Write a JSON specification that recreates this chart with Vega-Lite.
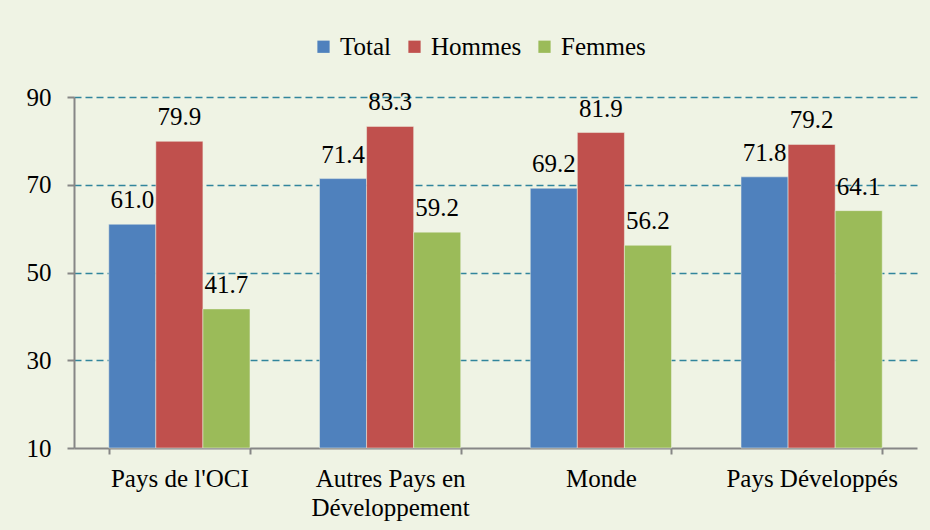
{
  "$schema": "https://vega.github.io/schema/vega-lite/v6.json",
  "autosize": "none",
  "width": 843,
  "height": 351,
  "padding": {"left": 74, "top": 97, "right": 13, "bottom": 82},
  "background": "#EFF3E4",
  "data": {
    "values": [
      {"region": "Pays de l'OCI", "serie": "Total", "val": 61.0},
      {"region": "Pays de l'OCI", "serie": "Hommes", "val": 79.9},
      {"region": "Pays de l'OCI", "serie": "Femmes", "val": 41.7},
      {"region": "Autres Pays en Développement", "serie": "Total", "val": 71.4},
      {"region": "Autres Pays en Développement", "serie": "Hommes", "val": 83.3},
      {"region": "Autres Pays en Développement", "serie": "Femmes", "val": 59.2},
      {"region": "Monde", "serie": "Total", "val": 69.2},
      {"region": "Monde", "serie": "Hommes", "val": 81.9},
      {"region": "Monde", "serie": "Femmes", "val": 56.2},
      {"region": "Pays Développés", "serie": "Total", "val": 71.8},
      {"region": "Pays Développés", "serie": "Hommes", "val": 79.2},
      {"region": "Pays Développés", "serie": "Femmes", "val": 64.1}
    ]
  },
  "config": {
    "view": {"stroke": null},
    "font": "Liberation Serif",
    "text": {"font": "Liberation Serif"}
  },
  "encoding": {
    "x": {
      "field": "region",
      "type": "nominal",
      "sort": ["Pays de l'OCI", "Autres Pays en Développement", "Monde", "Pays Développés"],
      "scale": {"paddingInner": 0.33, "paddingOuter": 0.165},
      "axis": {
        "title": null,
        "labelAngle": 0,
        "labelFont": "Liberation Serif",
        "labelFontSize": 25,
        "labelColor": "#000000",
        "labelPadding": 12,
        "labelOverlap": false,
        "labelBound": false,
        "labelExpr": "datum.value == 'Autres Pays en Développement' ? ['Autres Pays en', 'Développement'] : datum.value",
        "labelLineHeight": 29,
        "tickBand": "extent",
        "tickSize": 6,
        "tickColor": "#868686",
        "tickWidth": 2,
        "domainColor": "#868686",
        "domainWidth": 2,
        "grid": false
      }
    },
    "xOffset": {"field": "serie", "type": "nominal", "sort": ["Total", "Hommes", "Femmes"]},
    "y": {
      "field": "val",
      "type": "quantitative",
      "scale": {"domain": [10, 90], "nice": false, "zero": false},
      "axis": {
        "title": null,
        "values": [10, 30, 50, 70, 90],
        "labelFont": "Liberation Serif",
        "labelFontSize": 25,
        "labelColor": "#000000",
        "labelPadding": 16,
        "tickSize": 7,
        "tickColor": "#868686",
        "tickWidth": 2,
        "domainColor": "#868686",
        "domainWidth": 2,
        "grid": true,
        "gridColor": "#31859C",
        "gridWidth": 1.5,
        "gridDash": [7, 4],
        "gridOpacity": {"condition": {"test": "datum.value == 10", "value": 0}, "value": 1}
      }
    }
  },
  "layer": [
    {
      "mark": {"type": "bar", "stroke": "#EFF3E4", "strokeWidth": 0.5},
      "encoding": {
        "y2": {"datum": 10},
        "color": {
          "field": "serie",
          "type": "nominal",
          "sort": ["Total", "Hommes", "Femmes"],
          "scale": {"domain": ["Total", "Hommes", "Femmes"], "range": ["#4F81BD", "#C0504D", "#9BBB59"]},
          "legend": {
            "title": null,
            "orient": "none",
            "legendX": 237,
            "legendY": -63,
            "direction": "horizontal",
            "symbolType": "square",
            "symbolSize": 150,
            "symbolStrokeWidth": 0,
            "labelFont": "Liberation Serif",
            "labelFontSize": 25,
            "labelColor": "#000000",
            "labelOffset": 4,
            "columnPadding": 10
          }
        }
      }
    },
    {
      "mark": {"type": "text", "baseline": "alphabetic", "dy": -16, "fontSize": 25, "font": "Liberation Serif", "color": "#000000"},
      "encoding": {
        "text": {"field": "val", "type": "quantitative", "format": ".1f"}
      }
    }
  ]
}
